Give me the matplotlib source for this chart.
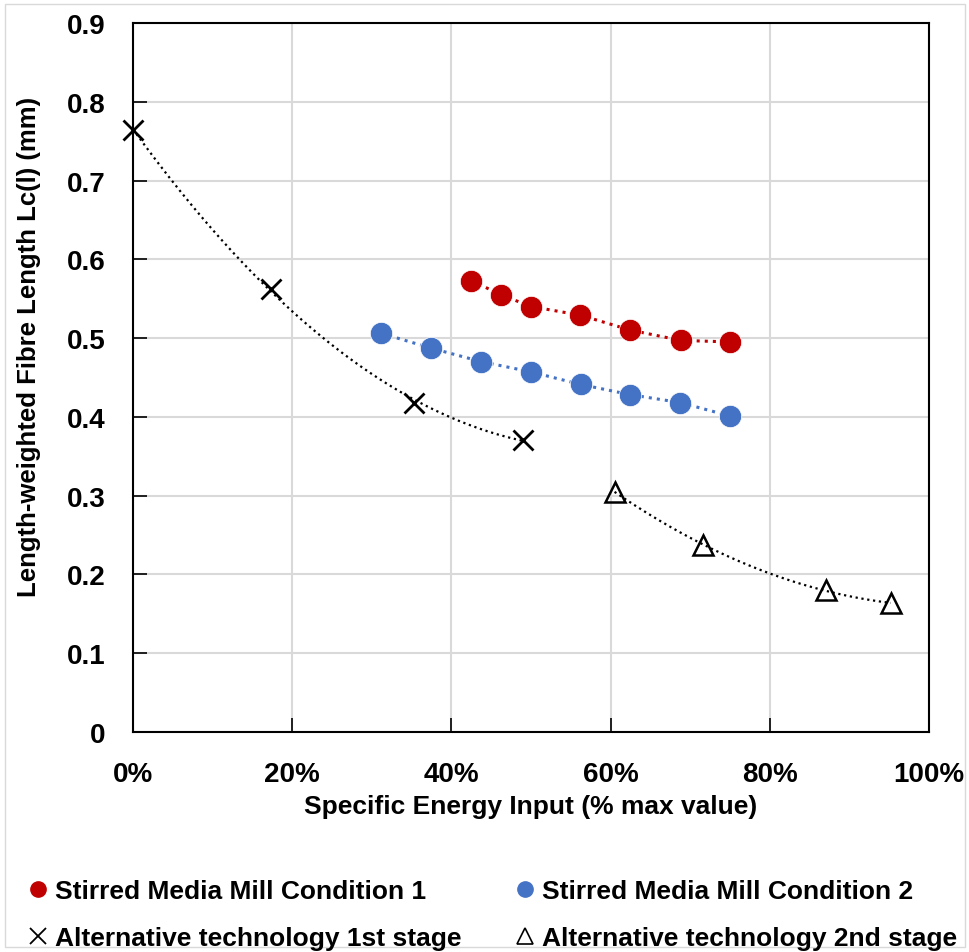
import numpy as np
import matplotlib.pyplot as plt
from matplotlib.lines import Line2D
from matplotlib.patches import Rectangle
from matplotlib.ticker import PercentFormatter

plt.rcParams['font.family'] = ['Liberation Sans', 'DejaVu Sans']
plt.rcParams['font.weight'] = 'bold'

# 数据（从图上读取，x 为最大比能百分比）
x_c1 = [42.5, 46.2, 50.0, 56.2, 62.5, 68.8, 75.0]
y_c1 = [0.573, 0.555, 0.540, 0.529, 0.510, 0.497, 0.495]

x_c2 = [31.2, 37.5, 43.75, 50.0, 56.25, 62.5, 68.75, 75.0]
y_c2 = [0.506, 0.487, 0.470, 0.457, 0.441, 0.428, 0.418, 0.401]

x_s1 = [0.0, 17.4, 35.3, 49.0]
y_s1 = [0.764, 0.562, 0.418, 0.371]

x_s2 = [60.5, 71.6, 87.1, 95.2]
y_s2 = [0.305, 0.237, 0.180, 0.163]

red = '#C00000'
blue = '#4472C4'

fig = plt.figure(figsize=(9.70, 9.53), dpi=100)
ax = fig.add_axes([0.1371, 0.2311, 0.8206, 0.7437])

# 趋势线（二次多项式，类似 Excel）
def trend(xs, ys, n=200):
    p = np.polyfit(xs, ys, 2)
    xx = np.linspace(min(xs), max(xs), n)
    return xx, np.polyval(p, xx)

ax.plot(x_c1, y_c1, linestyle=':', color=red, linewidth=2.2, zorder=2)
ax.plot(x_c2, y_c2, linestyle=':', color=blue, linewidth=2.2, zorder=2)
xx, yy = trend(x_s1, y_s1)
ax.plot(xx, yy, linestyle=':', color='black', linewidth=1.6, zorder=2)
xx, yy = trend(x_s2, y_s2)
ax.plot(xx, yy, linestyle=':', color='black', linewidth=1.6, zorder=2)

ax.plot(x_c1, y_c1, 'o', color=red, markersize=16, markeredgecolor='white',
        markeredgewidth=0.5, linestyle='none', zorder=3)
ax.plot(x_c2, y_c2, 'o', color=blue, markersize=16, markeredgecolor='white',
        markeredgewidth=0.5, linestyle='none', zorder=3)
ax.plot(x_s1, y_s1, 'x', color='black', markersize=15, markeredgewidth=2,
        linestyle='none', zorder=4, clip_on=False)
ax.plot(x_s2, y_s2, '^', markerfacecolor='none', markeredgecolor='black',
        markersize=15, markeredgewidth=1.8, linestyle='none', zorder=3)

ax.set_xlim(0, 100)
ax.set_ylim(0, 0.9)
ax.set_xticks(np.arange(0, 101, 20))
ax.set_yticks(np.arange(0, 0.91, 0.1))
ax.xaxis.set_major_formatter(PercentFormatter(decimals=0))
ax.set_yticklabels(['0'] + ['%.1f' % v for v in np.arange(0.1, 0.91, 0.1)])
ax.grid(True, color='#D9D9D9', linewidth=1.5)
ax.set_axisbelow(True)
for s in ax.spines.values():
    s.set_linewidth(1.5)
    s.set_color('black')
ax.tick_params(axis='both', direction='in', length=10, width=1.2,
               labelsize=20)
ax.tick_params(axis='x', pad=21)
ax.tick_params(axis='y', pad=20)

ax.set_xlabel('Specific Energy Input (% max value)', fontsize=19,
              fontweight='bold', labelpad=5)
ax.set_ylabel('Length-weighted Fibre Length Lc(l) (mm)', fontsize=18.5,
              fontweight='bold')
ax.yaxis.set_label_coords(-0.116, 0.544)

handles = [
    Line2D([], [], marker='o', color=red, linestyle='none', markersize=11),
    Line2D([], [], marker='o', color=blue, linestyle='none', markersize=11),
    Line2D([], [], marker='x', color='black', linestyle='none', markersize=12,
           markeredgewidth=1.3),
    Line2D([], [], marker='^', markerfacecolor='none', markeredgecolor='black',
           linestyle='none', markersize=11, markeredgewidth=1.2),
]
labels = ['Stirred Media Mill Condition 1', 'Stirred Media Mill Condition 2',
          'Alternative technology 1st stage', 'Alternative technology 2nd stage']
order = [0, 2, 1, 3]
fig.legend([handles[i] for i in order], [labels[i] for i in order],
           loc='upper left', bbox_to_anchor=(0.004, 0.101), ncol=2,
           frameon=False, fontsize=19, handlelength=0.8, handletextpad=0.25,
           columnspacing=2.0, labelspacing=0.85)

fig.patches.append(Rectangle((0.005, 0.005), 0.99, 0.99, transform=fig.transFigure,
                             fill=False, edgecolor='#D9D9D9', linewidth=1))

plt.savefig('out.png', dpi=100)
plt.close()
